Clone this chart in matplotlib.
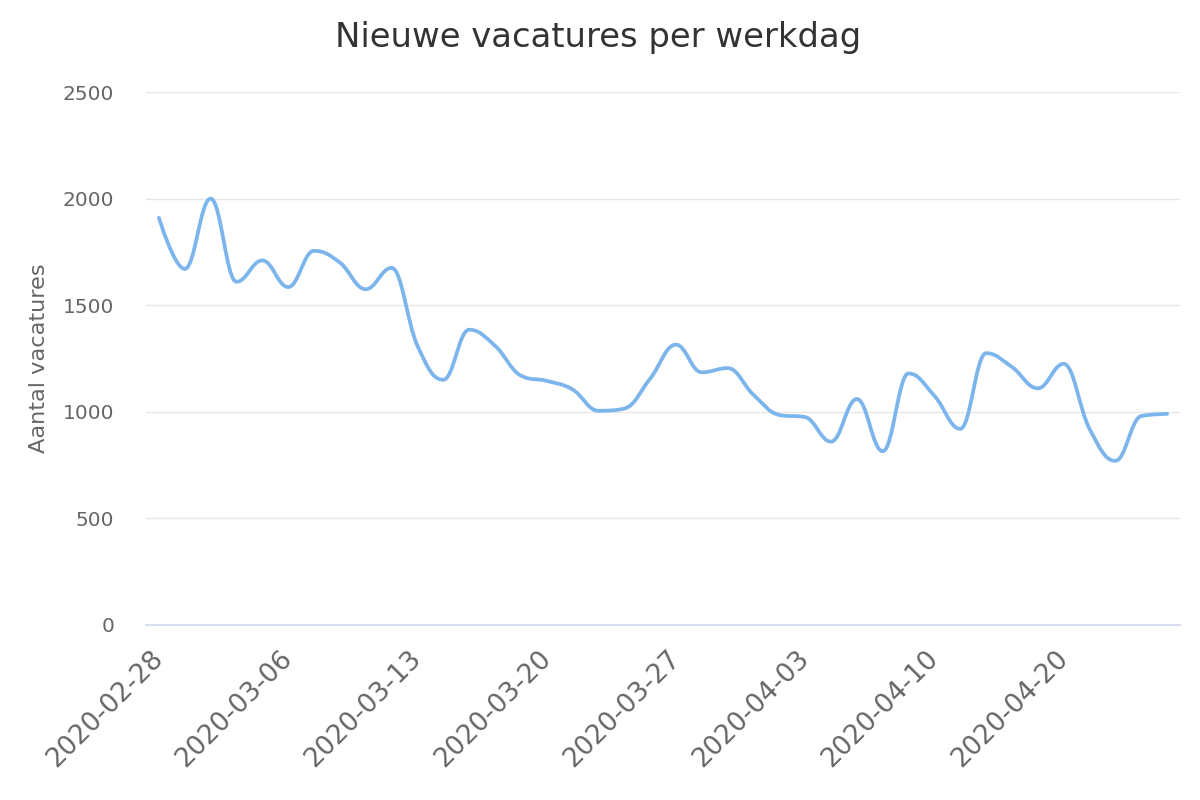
import numpy as np
import matplotlib
matplotlib.use('Agg')
import matplotlib.pyplot as plt
import matplotlib.transforms as mtransforms
from matplotlib.path import Path
from matplotlib.patches import PathPatch

# Data: new vacancies per working day
dates = [
    "2020-02-28", "2020-03-02", "2020-03-03", "2020-03-04", "2020-03-05",
    "2020-03-06", "2020-03-09", "2020-03-10", "2020-03-11", "2020-03-12",
    "2020-03-13", "2020-03-16", "2020-03-17", "2020-03-18", "2020-03-19",
    "2020-03-20", "2020-03-23", "2020-03-24", "2020-03-25", "2020-03-26",
    "2020-03-27", "2020-03-30", "2020-03-31", "2020-04-01", "2020-04-02",
    "2020-04-03", "2020-04-06", "2020-04-07", "2020-04-08", "2020-04-09",
    "2020-04-10", "2020-04-14", "2020-04-15", "2020-04-16", "2020-04-17",
    "2020-04-20", "2020-04-21", "2020-04-22", "2020-04-23", "2020-04-24",
]
vacatures = [
    1910, 1670, 2000, 1610, 1710, 1585, 1755, 1700, 1575, 1675,
    1310, 1150, 1385, 1310, 1170, 1145, 1105, 1005, 1015, 1155,
    1315, 1185, 1205, 1080, 985, 975, 860, 1060, 815, 1180,
    1075, 920, 1275, 1210, 1110, 1225, 920, 770, 980, 990,
]
label_every = 5
y_ticks = [0, 500, 1000, 1500, 2000, 2500]

LINE = '#7cb5ec'
GRID = '#e6e6e6'
AXIS = '#ccd6eb'
LABEL = '#666666'


def splinePath(xs, ys, smoothing=1.5):
    # Highcharts-style spline: bezier segments with smoothed control points
    n = len(xs)
    denom = smoothing + 1
    left = []
    right = []
    for i in range(n):
        px, py = xs[i], ys[i]
        if 0 < i < n - 1:
            lx, ly = xs[i - 1], ys[i - 1]
            nx, ny = xs[i + 1], ys[i + 1]
            lcx = (smoothing * px + lx) / denom
            lcy = (smoothing * py + ly) / denom
            rcx = (smoothing * px + nx) / denom
            rcy = (smoothing * py + ny) / denom
            if rcx != lcx:
                corr = (rcy - lcy) * (rcx - px) / (rcx - lcx) + py - rcy
                lcy += corr
                rcy += corr
            # keep control points between neighbouring values
            if lcy > ly and lcy > py:
                lcy = max(ly, py)
                rcy = 2 * py - lcy
            elif lcy < ly and lcy < py:
                lcy = min(ly, py)
                rcy = 2 * py - lcy
            if rcy > ny and rcy > py:
                rcy = max(ny, py)
                lcy = 2 * py - rcy
            elif rcy < ny and rcy < py:
                rcy = min(ny, py)
                lcy = 2 * py - rcy
            left.append((lcx, lcy))
            right.append((rcx, rcy))
        else:
            left.append((px, py))
            right.append((px, py))
    verts = [(xs[0], ys[0])]
    codes = [Path.MOVETO]
    for i in range(1, n):
        verts += [right[i - 1], left[i], (xs[i], ys[i])]
        codes += [Path.CURVE4] * 3
    return Path(verts, codes)


fig = plt.figure(figsize=(12, 8), dpi=100)
ax = fig.add_axes([146 / 1200, 175 / 800, 1034 / 1200, 533 / 800])

x = np.arange(len(vacatures))
ax.add_patch(PathPatch(splinePath(x, vacatures), fill=False, edgecolor=LINE,
                       linewidth=2.7, capstyle='round', joinstyle='round', zorder=3))

ax.set_xlim(-0.5, len(vacatures) - 0.5)
ax.set_ylim(0, 2500)

# Grid and spines
ax.set_yticks(y_ticks)
ax.set_yticklabels([str(v) for v in y_ticks])
for v in y_ticks[1:]:
    ax.axhline(v, color=GRID, linewidth=1, zorder=1)
for s in ['top', 'right', 'left']:
    ax.spines[s].set_visible(False)
ax.spines['bottom'].set_color(AXIS)
ax.spines['bottom'].set_linewidth(1.2)
ax.tick_params(axis='y', length=0, pad=23, labelsize=14.5, labelcolor=LABEL)

# X tick labels, rotated
tick_pos = x[::label_every]
ax.set_xticks(tick_pos)
ax.set_xticklabels([dates[i] for i in tick_pos], rotation=45, ha='right', va='top',
                   rotation_mode='anchor')
ax.tick_params(axis='x', length=0, pad=15, labelsize=19, labelcolor=LABEL)
shift = mtransforms.ScaledTranslation(-9 / 100, 0, fig.dpi_scale_trans)
for lbl in ax.get_xticklabels():
    lbl.set_transform(lbl.get_transform() + shift)

ax.set_ylabel("Aantal vacatures", fontsize=16.2, color=LABEL)
ax.yaxis.set_label_coords(-0.094, 0.5)

fig.text(598 / 1200, 1 - 37 / 800, "Nieuwe vacatures per werkdag", ha='center', va='center',
         fontsize=24.4, color='#333333')

fig.savefig('out.png', dpi=100)
